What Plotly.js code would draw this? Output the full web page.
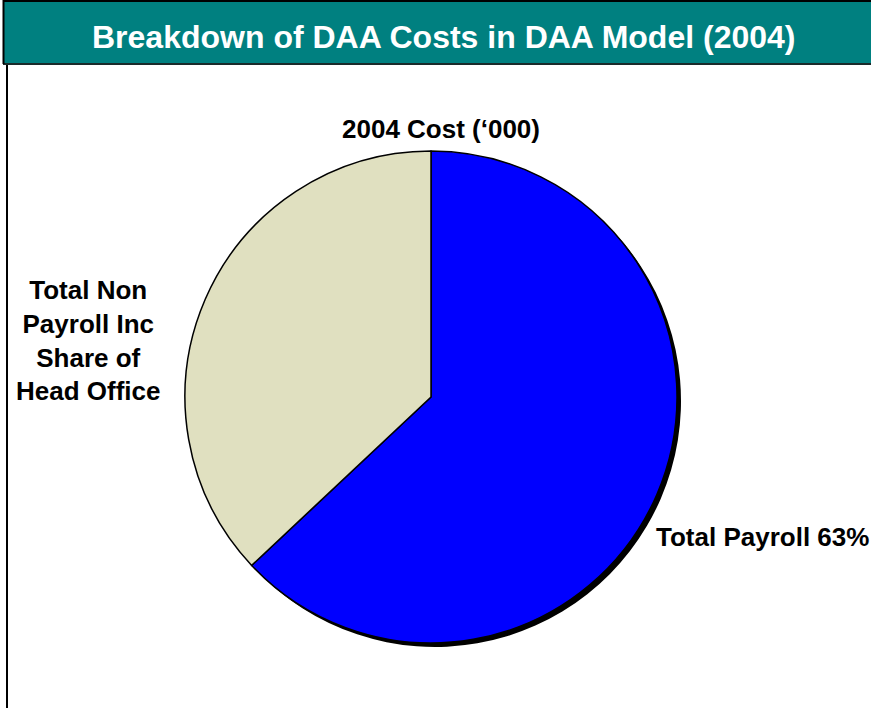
<!DOCTYPE html>
<html>
<head>
<meta charset="utf-8">
<script src="https://cdn.plot.ly/plotly-3.0.1.min.js"></script>
<style>html,body{margin:0;padding:0;background:#fff;}#chart{width:871px;height:708px;}</style>
</head>
<body>
<div id="chart"></div>
<script>
const chartTitle = "Breakdown of DAA Costs in DAA Model (2004)";
const pieTitle = "2004 Cost (‘000)";
const labels = ["Total Payroll", "Total Non Payroll Inc Share of Head Office"];
const values = [63, 37];
const colors = ["#0000FF", "#E0E0C0"];
const labelTexts = ["Total Payroll 63%", "Total Non<br>Payroll Inc<br>Share of<br>Head Office"];

const W = 871, H = 708;
const cx = 431, cy = 397, r = 246, sh = 4;
function dom(x0, y0) {
  return {
    x: [(x0 - r) / W, (x0 + r) / W],
    y: [(H - y0 - r) / H, (H - y0 + r) / H]
  };
}

const shadow = {
  type: "pie", labels: labels, values: values, sort: false, direction: "clockwise", rotation: 0,
  marker: { colors: ["#000", "#000"], line: { color: "#000", width: 0 } },
  textinfo: "none", hoverinfo: "skip", showlegend: false,
  domain: dom(cx + sh, cy + sh)
};
const pie = {
  type: "pie", labels: labels, values: values, sort: false, direction: "clockwise", rotation: 0,
  marker: { colors: colors, line: { color: "#000", width: 1.5 } },
  textinfo: "none", showlegend: false,
  domain: dom(cx, cy)
};

const fam = "'Liberation Sans', Arial, Helvetica, sans-serif";
const layout = {
  width: W, height: H,
  margin: { l: 0, r: 0, t: 0, b: 0 },
  paper_bgcolor: "#fff", plot_bgcolor: "#fff",
  showlegend: false,
  shapes: [
    { type: "rect", xref: "paper", yref: "paper", x0: 3 / W, x1: 1.01, y0: 1 - 64 / H, y1: 1 - 1 / H,
      fillcolor: "#008080", line: { width: 0 }, layer: "below" },
    { type: "line", xref: "paper", yref: "paper", x0: 3 / W, x1: 1.01, y0: 1 - 1 / H, y1: 1 - 1 / H,
      line: { color: "#000", width: 2 } },
    { type: "line", xref: "paper", yref: "paper", x0: 3 / W, x1: 1.01, y0: 1 - 64 / H, y1: 1 - 64 / H,
      line: { color: "#1a2a2a", width: 2 } },
    { type: "line", xref: "paper", yref: "paper", x0: 3.5 / W, x1: 3.5 / W, y0: 1 - 64 / H, y1: 1,
      line: { color: "#000", width: 2 } },
    { type: "line", xref: "paper", yref: "paper", x0: 7 / W, x1: 7 / W, y0: 0, y1: 1 - 65 / H,
      line: { color: "#000", width: 2 } }
  ],
  annotations: [
    { text: "<b>" + chartTitle + "</b>", xref: "paper", yref: "paper", x: 443 / W, y: 1 - 37 / H,
      xanchor: "center", yanchor: "middle", showarrow: false,
      font: { family: fam, size: 32, color: "#fff" } },
    { text: "<b>" + pieTitle + "</b>", xref: "paper", yref: "paper", x: 441 / W, y: 1 - 129 / H,
      xanchor: "center", yanchor: "middle", showarrow: false,
      font: { family: fam, size: 26, color: "#000" } },
    { text: "<b>" + labelTexts[0] + "</b>", xref: "paper", yref: "paper", x: 654 / W, y: 1 - 537 / H,
      xanchor: "left", yanchor: "middle", showarrow: false,
      font: { family: fam, size: 26, color: "#000" } },
    { text: "<b>" + labelTexts[1] + "</b>", xref: "paper", yref: "paper", x: 88 / W, y: 1 - 340 / H,
      xanchor: "center", yanchor: "middle", align: "center", showarrow: false,
      font: { family: fam, size: 26, color: "#000" } }
  ]
};

Plotly.newPlot("chart", [shadow, pie], layout, { staticPlot: true, displayModeBar: false });
</script>
</body>
</html>
